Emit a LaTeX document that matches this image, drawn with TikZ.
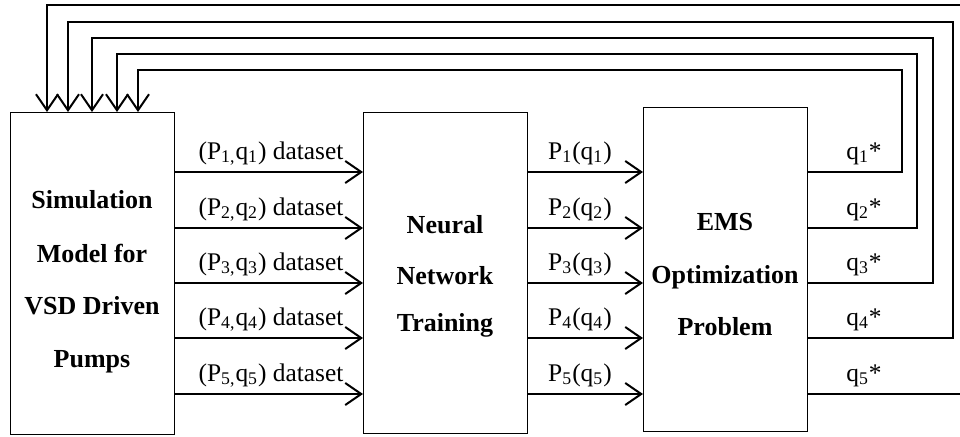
\documentclass[tikz,border=0pt]{standalone}
\usepackage{fontspec}
\setmainfont{Liberation Serif}
\usetikzlibrary{arrows.meta}
\begin{document}
\begin{tikzpicture}[x=0.5pt,y=-0.5pt,
  box/.style={draw,line width=0.5pt,inner sep=0pt,outer sep=0pt,minimum width=82pt},
  ttl/.style={anchor=base,font=\fontsize{13}{15}\selectfont\bfseries,inner sep=0pt},
  lbl/.style={anchor=base,font=\fontsize{12.7}{15}\selectfont,inner sep=0pt},
  flow/.style={line width=1pt,-{Straight Barb[length=8pt,width=11pt,line width=1pt]}}]
\useasboundingbox (0,0) rectangle (960,436);
\clip (0,0) rectangle (960,436);
% boxes
\node[box,minimum height=161pt] (sim) at (92,273) {};
\node[box,minimum height=160.5pt] (nn) at (445,272.5) {};
\node[box,minimum height=162pt] (ems) at (725,269) {};
% box texts
\node[ttl] (s1) at (92,208) {Simulation};
\node[ttl] (s2) at (92,262) {Model for};
\node[ttl] (s3) at (92,314) {VSD Driven};
\node[ttl] (s4) at (92,367) {Pumps};
\node[ttl] (n1) at (445,233) {Neural};
\node[ttl] (n2) at (445,284) {Network};
\node[ttl] (n3) at (445,331) {Training};
\node[ttl] (e1) at (725,230) {EMS};
\node[ttl] (e2) at (725,283) {Optimization};
\node[ttl] (e3) at (725,335) {Problem};
% rows
\foreach \i/\y in {1/172,2/228,3/283,4/338,5/394}{
  \coordinate (r\i) at (0,\y);
  \draw[flow] (sim.east |- r\i) -- (nn.west |- r\i);
  \draw[flow] (nn.east |- r\i) -- (ems.west |- r\i);
  \node[lbl] (d\i) at (271,\y-13) {(P\textsubscript{\i,}q\textsubscript{\i}) dataset};
  \node[lbl] (p\i) at (580,\y-13) {P\textsubscript{\i}(q\textsubscript{\i})};
  \node[lbl] (o\i) at (864,\y-13) {q\textsubscript{\i}*};
}
% feedback inputs on top of sim box
\coordinate (in1) at (138,112);
\coordinate (in2) at (117,112);
\coordinate (in3) at (92,112);
\coordinate (in4) at (68,112);
\coordinate (in5) at (47,112);
\draw[flow] (ems.east |- r1) -| (902,70) -| (in1);
\draw[flow] (ems.east |- r2) -| (917,54) -| (in2);
\draw[flow] (ems.east |- r3) -| (933,38) -| (in3);
\draw[flow] (ems.east |- r4) -| (953,22) -| (in4);
\draw[flow] (ems.east |- r5) -| (975,5) -| (in5);
\end{tikzpicture}
\end{document}
